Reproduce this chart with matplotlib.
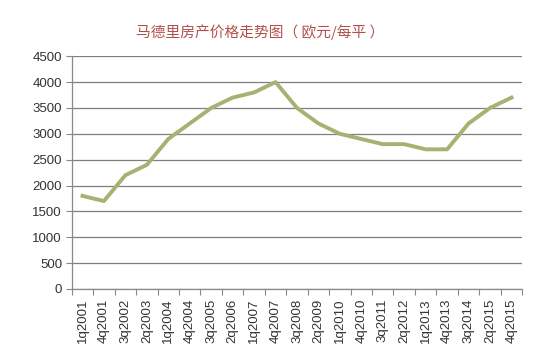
import numpy as np
import matplotlib.pyplot as plt

# quarter labels and price (EUR per m2)
quarters = ["1q2001", "4q2001", "3q2002", "2q2003", "1q2004", "4q2004", "3q2005",
            "2q2006", "1q2007", "4q2007", "3q2008", "2q2009", "1q2010", "4q2010",
            "3q2011", "2q2012", "1q2013", "4q2013", "3q2014", "2q2015", "4q2015"]
prices = [1800, 1700, 2200, 2400, 2900, 3200, 3500, 3700, 3800, 4000, 3500,
          3200, 3000, 2900, 2800, 2800, 2700, 2700, 3200, 3500, 3700]
yticks = np.arange(0, 4501, 500)

plt.rcParams['font.family'] = ['Liberation Sans', 'DejaVu Sans']

fig = plt.figure(figsize=(5.52, 3.57), dpi=100)
ax = fig.add_axes([0.130, 0.1905, 0.816, 0.652])

x = np.arange(len(quarters))
ax.plot(x, prices, color="#a6b172", linewidth=2.8, solid_joinstyle="round")

# Excel-style category axis: points centred, ticks on boundaries
ax.set_xlim(-0.5, len(quarters) - 0.5)
ax.set_xticks(x)
ax.set_xticklabels(quarters, rotation=90, fontsize=9.5, color="#333333")
ax.set_xticks(np.arange(-0.5, len(quarters)), minor=True)
ax.tick_params(axis="x", which="major", length=0, pad=7)
ax.tick_params(axis="x", which="minor", length=4, color="#888888", width=0.8)

ax.set_ylim(0, 4500)
ax.set_yticks(yticks)
ax.tick_params(axis="y", length=4, color="#888888", width=0.8, labelsize=9.5,
               labelcolor="#333333", pad=3)
ax.grid(axis="y", color="#7f7f7f", linewidth=0.9)
ax.set_axisbelow(True)

for side in ["top", "right"]:
    ax.spines[side].set_visible(False)
for side in ["left", "bottom"]:
    ax.spines[side].set_color("#888888")
    ax.spines[side].set_linewidth(0.9)

fig.text(0.471, 0.91, "马德里房产价格走势图（ 欧元/每平 ）", ha="center", va="center",
         fontsize=10.6, color="#b0504a", family=["Noto Sans CJK SC", "DejaVu Sans"])

fig.savefig("out.png", dpi=100)
